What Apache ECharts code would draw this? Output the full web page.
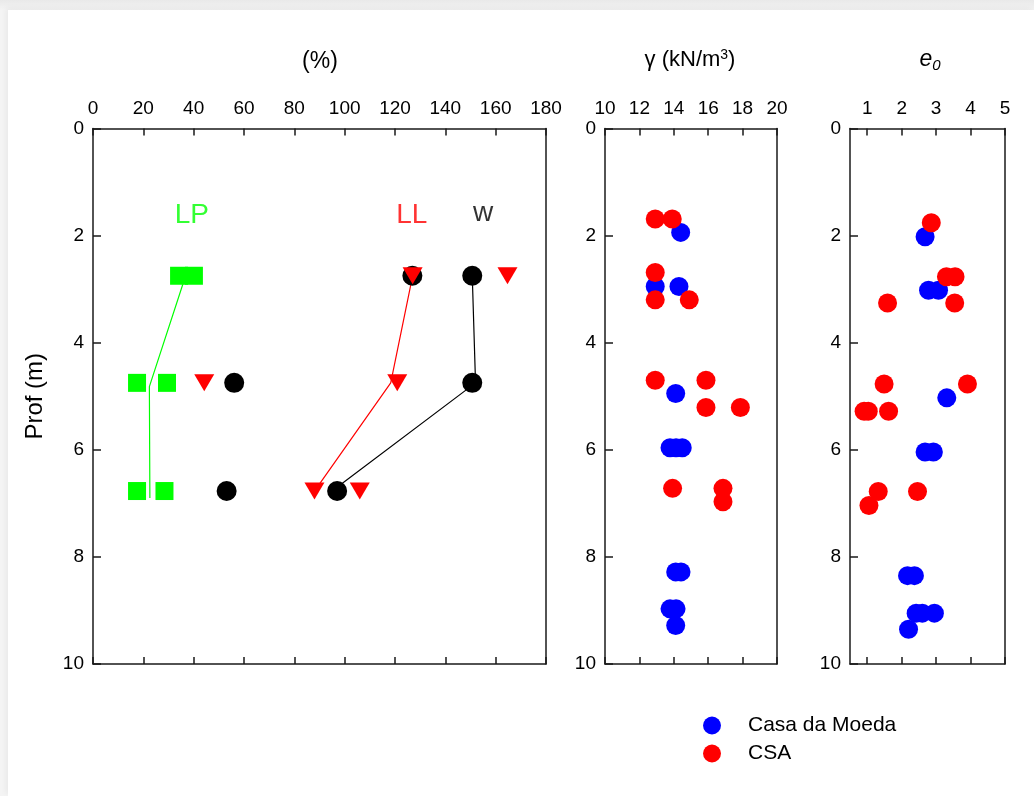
<!DOCTYPE html>
<html>
<head>
<meta charset="utf-8">
<script src="https://cdn.jsdelivr.net/npm/echarts@6/dist/echarts.min.js"></script>
<style>
html,body{margin:0;padding:0;width:1034px;height:796px;overflow:hidden;background:linear-gradient(180deg,#e9e9e9 0,#f4f4f4 10px);}
#card{position:absolute;left:8px;top:10px;right:0;bottom:0;background:#fff;box-shadow:-2px -2px 6px rgba(0,0,0,0.05);}
#chart{position:absolute;left:0;top:0;width:1034px;height:796px;}
</style>
</head>
<body>
<div id="card"></div>
<div id="chart"></div>
<script>
// ---- Data ----
// Left panel: (%) vs depth (m)
const lpX = [34.2, 40.1, 17.5, 29.4, 17.5, 28.4];
const lpY = [2.75, 2.75, 4.75, 4.75, 6.77, 6.77];
const llX = [127.0, 164.7, 44.2, 120.9, 88.0, 106.0];
const llY = [2.75, 2.75, 4.75, 4.75, 6.77, 6.77];
const wX  = [126.9, 150.7, 56.1, 150.7, 53.1, 97.0];
const wY  = [2.75, 2.75, 4.75, 4.75, 6.77, 6.77];
const lpLineX = [36.8, 22.4, 22.6];
const lpLineY = [2.75, 4.82, 6.9];
const llLineX = [127.0, 118.3, 88.0];
const llLineY = [2.75, 4.75, 6.77];
const wLineX  = [150.7, 152.0, 95.0];
const wLineY  = [2.75, 4.75, 6.77];
const annNames = ['LP', 'LL', 'w'];
const annX = [39.3, 126.7, 155.0];
const annY = [1.62, 1.62, 1.58];

// Middle panel: gamma (kN/m3)
const gammaCasaX = [14.4, 12.92, 14.3, 14.11, 13.78, 14.13, 14.49, 14.11, 14.42, 13.78, 14.13, 14.11];
const gammaCasaY = [1.94, 2.95, 2.95, 4.95, 5.96, 5.96, 5.96, 8.28, 8.28, 8.97, 8.97, 9.28];
const gammaCsaX  = [12.92, 13.91, 12.92, 12.92, 14.9, 12.92, 15.87, 15.87, 17.87, 13.93, 16.86, 16.86];
const gammaCsaY  = [1.69, 1.69, 2.69, 3.2, 3.2, 4.7, 4.7, 5.21, 5.21, 6.72, 6.72, 6.97];

// Right panel: e0
const e0CasaX = [2.68, 2.78, 3.07, 3.31, 2.68, 2.92, 2.17, 2.37, 2.42, 2.6, 2.95, 2.2];
const e0CasaY = [2.02, 3.02, 3.02, 5.03, 6.04, 6.04, 8.35, 8.35, 9.05, 9.05, 9.05, 9.35];
const e0CsaX  = [2.86, 3.3, 3.55, 1.59, 3.54, 1.49, 3.91, 0.91, 1.03, 1.62, 1.32, 1.05, 2.46];
const e0CsaY  = [1.76, 2.77, 2.77, 3.26, 3.26, 4.77, 4.77, 5.28, 5.28, 5.28, 6.78, 7.04, 6.78];

// Axis ticks
const e0Ticks = [1, 2, 3, 4, 5];
const legendNames = ['Casa da Moeda', 'CSA'];

const zip = (xs, ys) => xs.map((x, i) => [x, ys[i]]);

const FONT = 'Liberation Sans, Arial, sans-serif';
const lineCol = '#1a1a1a';
const labelStyle = {color: '#000', fontSize: 19, fontFamily: FONT};

function topX(gi, min, max, interval, extra) {
  return Object.assign({
    type: 'value', gridIndex: gi, position: 'top', min: min, max: max, interval: interval,
    axisLine: {show: true, lineStyle: {color: lineCol, width: 1.5}},
    axisTick: {show: true, inside: true, length: 7, lineStyle: {color: lineCol, width: 1.5}},
    axisLabel: Object.assign({margin: 10}, labelStyle),
    splitLine: {show: false}
  }, extra || {});
}
function botX(gi, min, max, interval, extra) {
  return Object.assign({
    type: 'value', gridIndex: gi, position: 'bottom', min: min, max: max, interval: interval,
    axisLine: {show: true, onZero: false, lineStyle: {color: lineCol, width: 1.5}},
    axisTick: {show: true, inside: true, length: 7, lineStyle: {color: lineCol, width: 1.5}},
    axisLabel: {show: false},
    splitLine: {show: false}
  }, extra || {});
}
function leftY(gi, extra) {
  return Object.assign({
    type: 'value', gridIndex: gi, position: 'left', inverse: true, min: 0, max: 10, interval: 2,
    axisLine: {show: true, onZero: false, lineStyle: {color: lineCol, width: 1.5}},
    axisTick: {show: true, inside: true, length: 8, lineStyle: {color: lineCol, width: 1.5}},
    axisLabel: Object.assign({margin: 9}, labelStyle),
    splitLine: {show: false}
  }, extra || {});
}
function rightY(gi) {
  return {
    type: 'value', gridIndex: gi, position: 'right', inverse: true, min: 0, max: 10, interval: 2,
    axisLine: {show: true, onZero: false, lineStyle: {color: lineCol, width: 1.5}},
    axisTick: {show: false}, axisLabel: {show: false}, splitLine: {show: false}
  };
}

const chart = echarts.init(document.getElementById('chart'), null, {renderer: 'canvas'});

const annColors = {LP: '#00ff00', LL: '#ff0000', w: '#000000'};

const option = {
  animation: false,
  backgroundColor: 'transparent',
  grid: [
    {left: 93, top: 128.5, width: 453, height: 535.5},
    {left: 605, top: 128.5, width: 172, height: 535.5},
    {left: 850, top: 128.5, width: 155, height: 535.5}
  ],
  xAxis: [
    topX(0, 0, 180, 20),
    botX(0, 0, 180, 20),
    topX(1, 10, 20, 2),
    botX(1, 10, 20, 2),
    topX(2, 0.5, 5, null, {axisLabel: Object.assign({margin: 10, customValues: e0Ticks}, labelStyle),
      axisTick: {show: true, inside: true, length: 7, customValues: e0Ticks, lineStyle: {color: lineCol, width: 1.5}}}),
    botX(2, 0.5, 5, null, {axisTick: {show: true, inside: true, length: 7, customValues: e0Ticks, lineStyle: {color: lineCol, width: 1.5}}})
  ],
  yAxis: [
    leftY(0, {name: 'Prof (m)', nameLocation: 'middle', nameGap: 46, nameRotate: 90,
      nameTextStyle: {color: '#000', fontSize: 24, fontFamily: FONT}}),
    rightY(0),
    leftY(1),
    rightY(1),
    leftY(2),
    rightY(2)
  ],
  legend: {
    orient: 'vertical', left: 703, top: 714, padding: 0, itemGap: 5,
    itemWidth: 18, itemHeight: 18, selectedMode: false,
    data: legendNames.map(n => ({name: n, icon: 'circle'})),
    textStyle: {color: '#000', fontSize: 21, fontFamily: FONT, lineHeight: 23, padding: [0, 0, 0, 22]}
  },
  graphic: [
    {type: 'text', x: 320, y: 62, style: {text: '(%)', font: '23px ' + FONT, fill: '#000', textAlign: 'center', textVerticalAlign: 'middle'}},
    {type: 'text', x: 690, y: 60, style: {
      text: '{a|γ (kN/m}{s|3}{a|)}', textAlign: 'center', textVerticalAlign: 'middle',
      rich: {a: {fontSize: 22, fontFamily: FONT, fill: '#000', color: '#000'},
             s: {fontSize: 14, fontFamily: FONT, fill: '#000', color: '#000', verticalAlign: 'top', padding: [0, 0, 10, 0]}}
    }},
    {type: 'text', x: 930, y: 60, style: {
      text: '{e|e}{s|0}', textAlign: 'center', textVerticalAlign: 'middle',
      rich: {e: {fontSize: 23, fontStyle: 'italic', fontFamily: FONT, fill: '#000', color: '#000'},
             s: {fontSize: 15, fontStyle: 'italic', fontFamily: FONT, fill: '#000', color: '#000', padding: [12, 0, 0, 0]}}
    }}
  ],
  series: [
    {type: 'line', xAxisIndex: 0, yAxisIndex: 0, data: zip(lpLineX, lpLineY), symbol: 'none', z: 1,
      lineStyle: {color: '#00ff00', width: 1.2}},
    {type: 'line', xAxisIndex: 0, yAxisIndex: 0, data: zip(llLineX, llLineY), symbol: 'none', z: 1,
      lineStyle: {color: '#ff0000', width: 1.2}},
    {type: 'line', xAxisIndex: 0, yAxisIndex: 0, data: zip(wLineX, wLineY), symbol: 'none', z: 1,
      lineStyle: {color: '#000000', width: 1.2}},
    {name: 'w', type: 'scatter', xAxisIndex: 0, yAxisIndex: 0, data: zip(wX, wY), z: 3,
      symbol: 'circle', symbolSize: 20, itemStyle: {color: '#000', opacity: 1}},
    {name: 'LP', type: 'scatter', xAxisIndex: 0, yAxisIndex: 0, data: zip(lpX, lpY), z: 3,
      symbol: 'rect', symbolSize: 18, itemStyle: {color: '#00ff00', opacity: 1}},
    {name: 'LL', type: 'scatter', xAxisIndex: 0, yAxisIndex: 0, data: zip(llX, llY), z: 4,
      symbol: 'triangle', symbolRotate: 180, symbolSize: [20, 17], itemStyle: {color: '#ff0000', opacity: 1}},
    {type: 'scatter', xAxisIndex: 0, yAxisIndex: 0, z: 5, symbolSize: 0,
      data: annNames.map((n, i) => ({name: n, value: [annX[i], annY[i]], label: {color: annColors[n]}})),
      label: {show: true, position: 'inside', formatter: p => p.name, fontSize: 28, fontFamily: FONT, color: '#000'},
      itemStyle: {color: 'transparent'}},
    {name: 'Casa da Moeda', type: 'scatter', xAxisIndex: 2, yAxisIndex: 2, data: zip(gammaCasaX, gammaCasaY), z: 3,
      symbol: 'circle', symbolSize: 19, itemStyle: {color: '#0000ff', opacity: 1}},
    {name: 'CSA', type: 'scatter', xAxisIndex: 2, yAxisIndex: 2, data: zip(gammaCsaX, gammaCsaY), z: 4,
      symbol: 'circle', symbolSize: 19, itemStyle: {color: '#ff0000', opacity: 1}},
    {name: 'Casa da Moeda', type: 'scatter', xAxisIndex: 4, yAxisIndex: 4, data: zip(e0CasaX, e0CasaY), z: 3,
      symbol: 'circle', symbolSize: 19, itemStyle: {color: '#0000ff', opacity: 1}},
    {name: 'CSA', type: 'scatter', xAxisIndex: 4, yAxisIndex: 4, data: zip(e0CsaX, e0CsaY), z: 4,
      symbol: 'circle', symbolSize: 19, itemStyle: {color: '#ff0000', opacity: 1}}
  ]
};

chart.setOption(option);
</script>
</body>
</html>
